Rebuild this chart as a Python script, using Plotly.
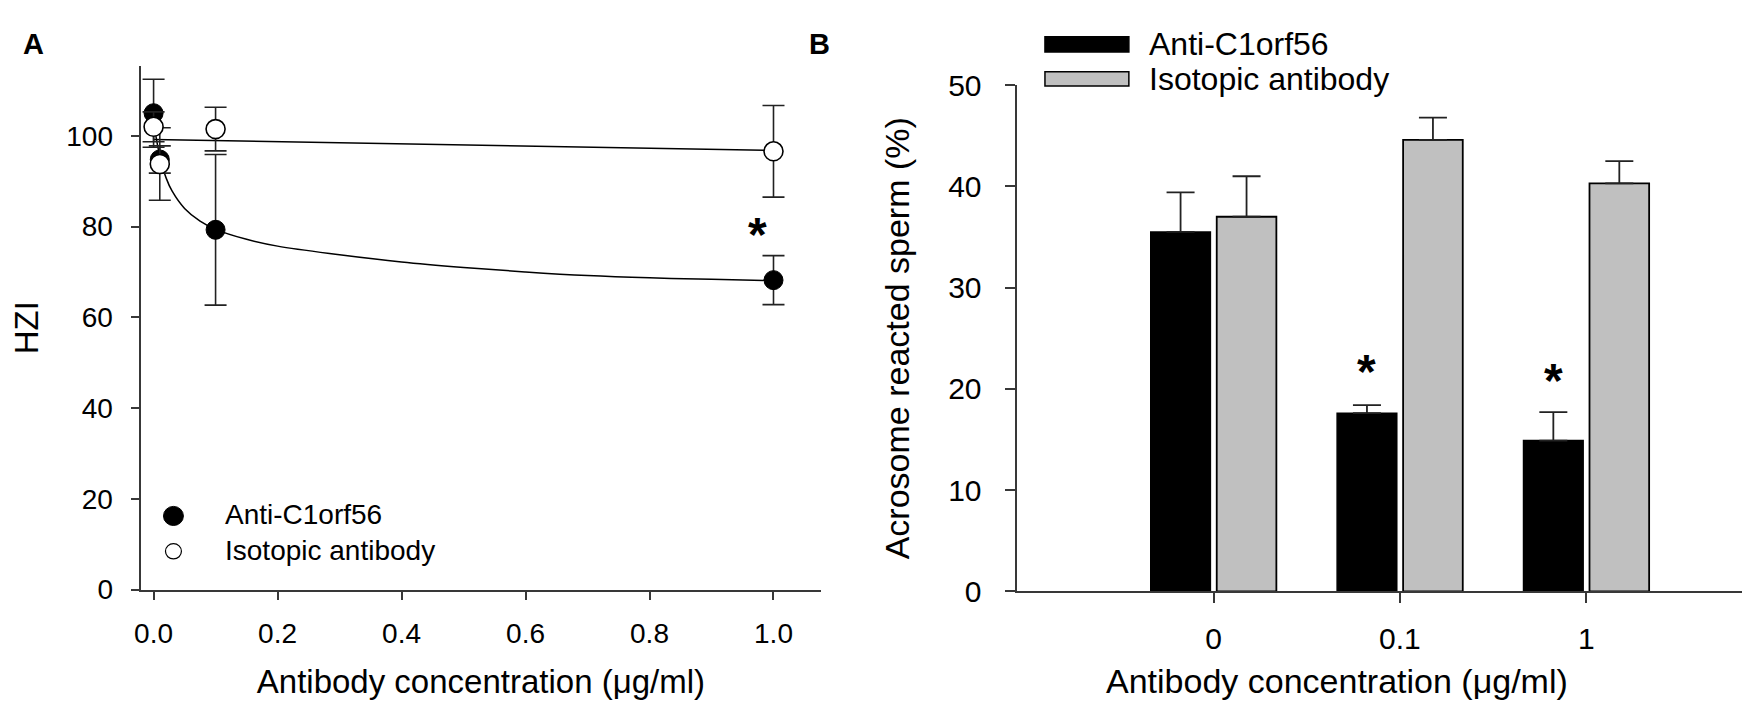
import plotly.graph_objects as go

# ---------------- Panel A data ----------------
conc_a = [0, 0.01, 0.1, 1.0]
anti_hzi = [105.0, 94.8, 79.3, 68.2]
anti_err = [7.5, 3.0, 16.6, 5.4]
iso_hzi = [102.0, 93.8, 101.5, 96.6]
iso_err = [3.3, 8.0, 4.8, 10.1]

# fitted curves
fit_anti_x = [0, 0.005, 0.01, 0.02, 0.03, 0.05, 0.075, 0.1, 0.15, 0.2, 0.3, 0.4, 0.5, 0.6, 0.7, 0.8, 0.9, 1.0]
fit_anti_y = [103.0, 99.0, 95.5, 90.8, 87.8, 84.0, 81.2, 79.4, 77.2, 75.7, 73.8, 72.2, 71.0, 70.0, 69.2, 68.7, 68.4, 68.1]
fit_iso_x = [0, 0.5, 1.0]
fit_iso_y = [99.2, 98.0, 96.8]

series_names = ["Anti-C1orf56", "Isotopic antibody"]

# ---------------- Panel B data ----------------
conc_b_labels = ["0", "0.1", "1"]
anti_ar = [35.5, 17.6, 14.9]
anti_ar_err = [3.9, 0.8, 2.8]
iso_ar = [37.0, 44.6, 40.3]
iso_ar_err = [4.0, 2.2, 2.2]

FONT = "Liberation Sans, Arial, sans-serif"
AX = "#383838"
GRAY = "#c0c0c0"
W, H = 1750, 715

fig = go.Figure()

# Panel A fit lines
fig.add_trace(go.Scatter(x=fit_anti_x, y=fit_anti_y, mode="lines", line=dict(color="black", width=1.5, shape="spline"),
                         showlegend=False, hoverinfo="skip", xaxis="x", yaxis="y"))
fig.add_trace(go.Scatter(x=fit_iso_x, y=fit_iso_y, mode="lines", line=dict(color="black", width=1.5),
                         showlegend=False, hoverinfo="skip", xaxis="x", yaxis="y"))
# Panel A points
fig.add_trace(go.Scatter(x=conc_a, y=anti_hzi, mode="markers", name=series_names[0], showlegend=False,
                         marker=dict(color="black", size=19, line=dict(color="black", width=1)),
                         error_y=dict(type="data", array=anti_err, visible=True, color="#222", thickness=1.6, width=11),
                         xaxis="x", yaxis="y"))
fig.add_trace(go.Scatter(x=conc_a, y=iso_hzi, mode="markers", name=series_names[1], showlegend=False,
                         marker=dict(color="white", size=19, line=dict(color="black", width=1.6)),
                         error_y=dict(type="data", array=iso_err, visible=True, color="#222", thickness=1.6, width=11),
                         xaxis="x", yaxis="y"))

# Panel B bars
xb = [0, 1, 2]
fig.add_trace(go.Bar(x=xb, y=anti_ar, width=0.32, offset=-0.337, name=series_names[0],
                     marker=dict(color="black", line=dict(color="black", width=1.5)),
                     error_y=dict(type="data", array=anti_ar_err, arrayminus=[0, 0, 0], symmetric=False,
                                  color="#222", thickness=1.8, width=14),
                     xaxis="x2", yaxis="y2", showlegend=False))
fig.add_trace(go.Bar(x=xb, y=iso_ar, width=0.32, offset=0.017, name=series_names[1],
                     marker=dict(color=GRAY, line=dict(color="black", width=1.8)),
                     error_y=dict(type="data", array=iso_ar_err, arrayminus=[0, 0, 0], symmetric=False,
                                  color="#222", thickness=1.8, width=14),
                     xaxis="x2", yaxis="y2", showlegend=False))

axis_common = dict(showline=True, linecolor=AX, linewidth=2, ticks="outside", tickcolor=AX, tickwidth=1.5,
                   showgrid=False, zeroline=False, mirror=False)

fig.update_layout(
    width=W, height=H, margin=dict(l=0, r=0, t=0, b=0),
    paper_bgcolor="white", plot_bgcolor="white",
    font=dict(family=FONT, color="black"),
    barmode="overlay", showlegend=False,
    xaxis=dict(domain=[127 / W, 810 / W], range=[-0.021, 1.077], tickvals=[0, 0.2, 0.4, 0.6, 0.8, 1.0],
               ticktext=["0.0", "0.2", "0.4", "0.6", "0.8", "1.0"], tickfont=dict(size=28),
               ticklen=8, ticklabelstandoff=10,
               title=dict(text="Antibody concentration (\u03bcg/ml)", font=dict(size=33), standoff=22),
               anchor="y", **axis_common),
    yaxis=dict(domain=[1 - 592 / H, 1 - 44 / H], range=[0, 115.4], tickvals=[0, 20, 40, 60, 80, 100],
               tickfont=dict(size=28), ticklen=8, ticklabelstandoff=12,
               title=dict(text="HZI", font=dict(size=33), standoff=18),
               anchor="x", **axis_common),
    xaxis2=dict(domain=[1006 / W, 1747 / W], range=[-1.057, 2.905], tickvals=xb, ticktext=conc_b_labels,
                tickfont=dict(size=30), ticklen=10, ticklabelstandoff=10,
                anchor="y2", **axis_common),
    yaxis2=dict(domain=[1 - 594 / H, 1 - 64 / H], range=[0, 50], tickvals=[0, 10, 20, 30, 40, 50],
                tickfont=dict(size=30), ticklen=10, ticklabelstandoff=17,
                title=dict(text="Acrosome reacted sperm (%)", font=dict(size=34), standoff=28),
                anchor="x2", **axis_common),
)

# Panel B x-axis title (offset to the left of the axis centre as in the original)
fig.add_annotation(text="Antibody concentration (\u03bcg/ml)", xref="paper", yref="paper", x=1328 / W, y=1 - 688 / H,
                   xanchor="center", yanchor="middle", showarrow=False, font=dict(size=34))

# Panel A legend (symbol keys + labels)
fig.add_shape(type="circle", xref="paper", yref="paper", x0=150 / W, x1=170 / W, y0=1 - 525 / H, y1=1 - 505 / H,
              fillcolor="black", line=dict(color="black", width=1))
fig.add_shape(type="circle", xref="paper", yref="paper", x0=152 / W, x1=168 / W, y0=1 - 560 / H, y1=1 - 544 / H,
              fillcolor="white", line=dict(color="black", width=1.2))
fig.add_annotation(text=series_names[0], xref="paper", yref="paper", x=210 / W, y=1 - 514 / H,
                   xanchor="left", yanchor="middle", showarrow=False, font=dict(size=28))
fig.add_annotation(text=series_names[1], xref="paper", yref="paper", x=210 / W, y=1 - 551 / H,
                   xanchor="left", yanchor="middle", showarrow=False, font=dict(size=28))

# Panel B legend swatches and labels
fig.add_shape(type="rect", xref="paper", yref="paper", x0=1034.5 / W, x1=1118.7 / W,
              y0=1 - 29.3 / H, y1=1 - 13.3 / H, fillcolor="black", line=dict(color="black", width=1.5))
fig.add_shape(type="rect", xref="paper", yref="paper", x0=1034.5 / W, x1=1118.7 / W,
              y0=1 - 65 / H, y1=1 - 50 / H, fillcolor=GRAY, line=dict(color="black", width=1.5))
fig.add_annotation(text=series_names[0], xref="paper", yref="paper", x=1137 / W, y=1 - 21 / H,
                   xanchor="left", yanchor="middle", showarrow=False, font=dict(size=32))
fig.add_annotation(text=series_names[1], xref="paper", yref="paper", x=1137 / W, y=1 - 57.5 / H,
                   xanchor="left", yanchor="middle", showarrow=False, font=dict(size=32))

# significance stars
fig.add_annotation(text="<b>*</b>", x=0.974, y=78.3, xref="x", yref="y", showarrow=False,
                   font=dict(size=48), yanchor="middle")
fig.add_annotation(text="<b>*</b>", x=0.823, y=21.7, xref="x2", yref="y2", showarrow=False,
                   font=dict(size=48), yanchor="middle")
fig.add_annotation(text="<b>*</b>", x=1.823, y=20.8, xref="x2", yref="y2", showarrow=False,
                   font=dict(size=48), yanchor="middle")

# panel letters
fig.add_annotation(text="<b>A</b>", xref="paper", yref="paper", x=20 / W, y=1 - 21 / H, showarrow=False,
                   font=dict(size=29), xanchor="center", yanchor="middle")
fig.add_annotation(text="<b>B</b>", xref="paper", yref="paper", x=808 / W, y=1 - 21 / H, showarrow=False,
                   font=dict(size=29), xanchor="center", yanchor="middle")

fig.write_html("out.html")
